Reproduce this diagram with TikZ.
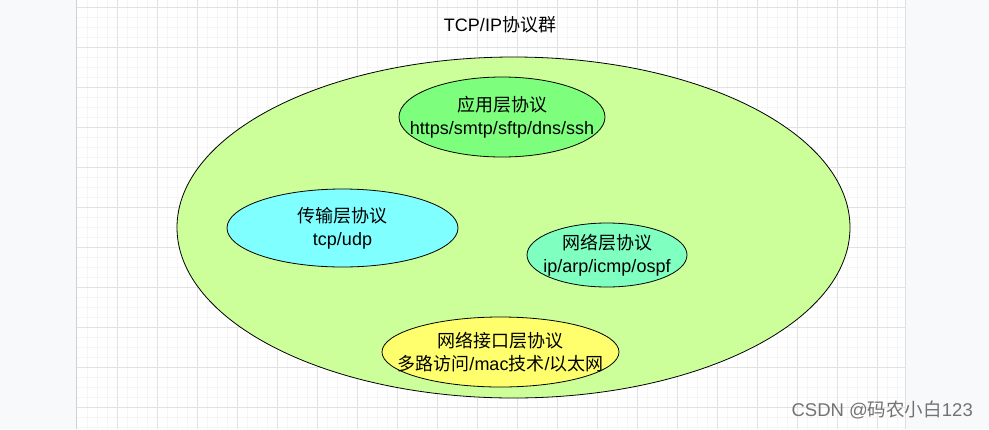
\documentclass[tikz,border=0pt]{standalone}
\usepackage{fontspec}
\setmainfont{Liberation Sans}
\newfontfamily\cjk{Noto Sans CJK SC}
\usetikzlibrary{shapes.geometric}
\definecolor{pageout}{HTML}{F8F9FA}
\definecolor{gridmajor}{HTML}{E2E2E2}
\definecolor{gridminor}{HTML}{F5F5F5}
\definecolor{suitefill}{HTML}{CCFF99}
\definecolor{appfill}{HTML}{7DFF7D}
\definecolor{tranfill}{HTML}{7FFFFF}
\definecolor{netfill}{HTML}{7FFFC0}
\definecolor{linkfill}{HTML}{FFFF6E}
\tikzset{
  layer/.style={ellipse, draw=black, line width=0.8pt, inner sep=0pt},
  layertext/.style={align=center, inner sep=0pt, font=\fontsize{18}{23}\selectfont},
}
\begin{document}
\begin{tikzpicture}[x=1pt,y=-1pt]
  \useasboundingbox (0,0) rectangle (989,429);
  \fill[pageout] (0,0) rectangle (989,429);
  \fill[white] (77,0) rectangle (905,429);
  % grid
  \foreach \gx in {87,97,...,897} \draw[gridminor, line width=0.6pt] (\gx,0) -- (\gx,429);
  \foreach \gy in {17,27,...,427} \draw[gridminor, line width=0.6pt] (77,\gy) -- (905,\gy);
  \foreach \gx in {117,157,...,897} \draw[gridmajor, line width=0.8pt] (\gx,0) -- (\gx,429);
  \foreach \gy in {7,47,...,407} \draw[gridmajor, line width=0.8pt] (77,\gy) -- (905,\gy);
  \draw[black!18, line width=1.5pt] (76.5,0) -- (76.5,429);
  \draw[black!12, line width=1.5pt] (905.5,0) -- (905.5,429);

  \node (title) at (500,25) {\fontsize{18}{23}\selectfont TCP/IP{\cjk 协议群}};

  \node[layer, fill=suitefill, minimum width=673, minimum height=341] (suite) at (513.5,227.5) {};
  \node[layer, fill=appfill, minimum width=206, minimum height=80] (app) at (502,117) {};
  \node[layertext] (apptext) at (app) {{\cjk 应用层协议}\\https/smtp/sftp/dns/ssh};
  \node[layer, fill=tranfill, minimum width=231, minimum height=78] (transport) at (342.5,228) {};
  \node[layertext] (transporttext) at (transport) {{\cjk 传输层协议}\\tcp/udp};
  \node[layer, fill=netfill, minimum width=160, minimum height=64] (network) at (607,255) {};
  \node[layertext] (networktext) at (network) {{\cjk 网络层协议}\\ip/arp/icmp/ospf};
  \node[layer, fill=linkfill, minimum width=237, minimum height=70] (link) at (500.5,352) {};
  \node[layertext] (linktext) at (link)
    {{\cjk 网络接口层协议}\\{\cjk 多路访问}/mac{\cjk 技术}/{\cjk 以太网}};

  \node[text=black!55, anchor=east, inner sep=0pt] (mark) at (973,410)
    {\fontsize{18.5}{22}\selectfont CSDN @{\cjk 码农小白}123};
\end{tikzpicture}
\end{document}
